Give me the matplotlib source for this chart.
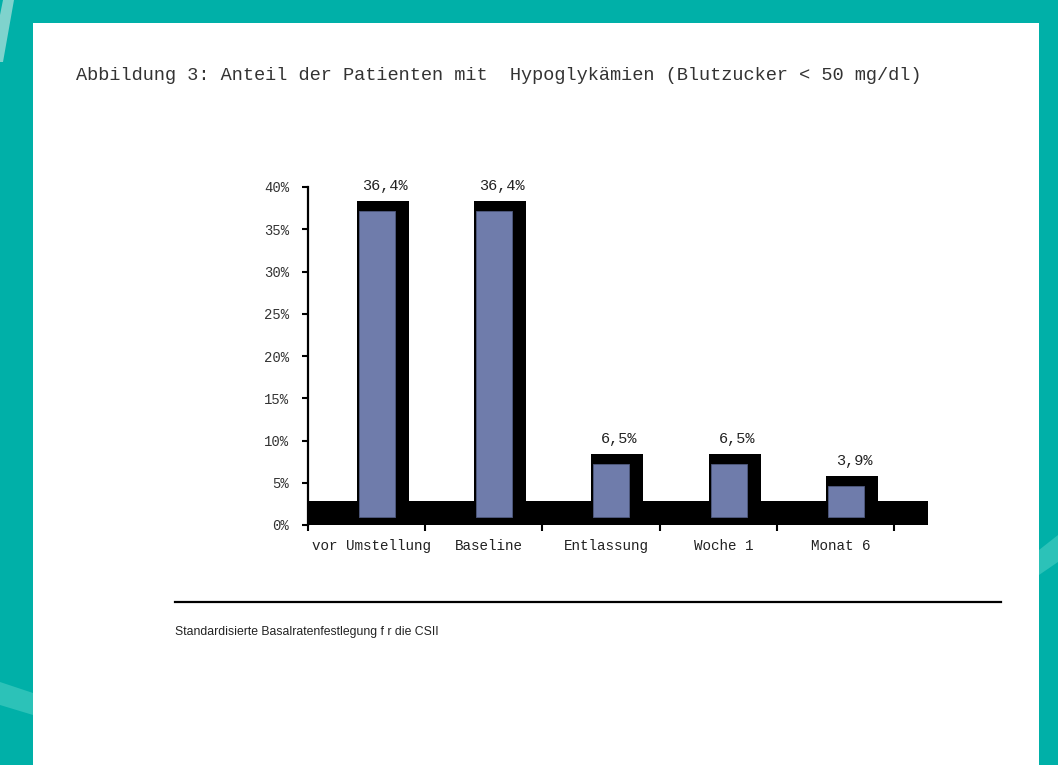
import matplotlib.pyplot as plt
from matplotlib.patches import Rectangle, Polygon
from matplotlib.lines import Line2D

# data
categories = ["vor Umstellung", "Baseline", "Entlassung", "Woche 1", "Monat 6"]
values = [36.4, 36.4, 6.5, 6.5, 3.9]
value_labels = ["36,4%", "36,4%", "6,5%", "6,5%", "3,9%"]
yticks = [0, 5, 10, 15, 20, 25, 30, 35, 40]
ytick_labels = ["0%", "5%", "10%", "15%", "20%", "25%", "30%", "35%", "40%"]

title = "Abbildung 3: Anteil der Patienten mit  Hypoglykämien (Blutzucker < 50 mg/dl)"
footer = "Standardisierte Basalratenfestlegung f r die CSII"

# colours / fonts
TEAL = "#00B0A8"
BAR_BLUE = "#6F7CAB"
MONO = ["Liberation Mono", "DejaVu Sans Mono"]

W, H = 1058, 765
fig = plt.figure(figsize=(W / 100, H / 100), dpi=100, facecolor=TEAL)

# lighter stripes in the teal border
def px_poly(pts, color):
    fig.patches.append(Polygon([(x / W, 1 - y / H) for x, y in pts], closed=True,
                               transform=fig.transFigure, facecolor=color,
                               edgecolor="none", zorder=-2))

px_poly([(3, 0), (14, 0), (3, 62), (0, 62), (0, 15)], "#7fd3cd")
px_poly([(0, 682), (33, 693), (33, 715), (0, 705)], "#2cc2b8")
px_poly([(1039, 550), (1058, 535), (1058, 562), (1039, 575)], "#2cc2b8")

# white page
fig.patches.append(Rectangle((33 / W, 0), (1039 - 33) / W, 1 - 23 / H,
                             transform=fig.transFigure, facecolor="white",
                             edgecolor="none", zorder=-1))

fig.text(76 / W, 1 - 75 / H, title, family=MONO, fontsize=13.4, color="#333333",
         va="center", ha="left")

ax = fig.add_axes([308 / W, 1 - 525 / H, (928 - 308) / W, (525 - 187) / H])
ax.set_zorder(1)
ax.set_facecolor("white")
ax.set_xlim(-0.5, 4.79)
ax.set_ylim(0, 40)

# 3d-ish look: black floor, black box behind, blue front face
floor_top = 2.85
face_bottom = 0.95
face_left, face_w = -0.065, 0.307
side_w = 0.12
face_lift, box_lift = 0.75, 1.9

ax.add_patch(Rectangle((-0.5, 0), 5.29, floor_top, facecolor="black",
                       edgecolor="none", zorder=1, clip_on=False))
for i, v in enumerate(values):
    ax.add_patch(Rectangle((i + face_left - 0.017, face_bottom), face_w + side_w + 0.017,
                           v + box_lift - face_bottom, facecolor="black",
                           edgecolor="none", zorder=2, clip_on=False))
    ax.add_patch(Rectangle((i + face_left, face_bottom), face_w, v + face_lift - face_bottom,
                           facecolor=BAR_BLUE, edgecolor="#505a80", linewidth=0.6,
                           zorder=3, clip_on=False))
    ax.text(i + face_left + (face_w + side_w) / 2 + 0.01, v + box_lift + 0.95, value_labels[i],
            family=MONO, fontsize=11, color="#222222", ha="center", va="bottom")

for s in ["top", "right"]:
    ax.spines[s].set_visible(False)
ax.spines["left"].set_linewidth(1.6)
ax.spines["bottom"].set_visible(False)

ax.set_yticks(yticks)
ax.set_yticklabels(ytick_labels, family=MONO, fontsize=10, color="#333333")
ax.tick_params(axis="y", length=4.5, width=1.5, pad=9)

ax.set_xticks([i - 0.5 for i in range(len(categories) + 1)])
ax.set_xticklabels([])
ax.tick_params(axis="x", which="major", length=4, width=1.5, direction="out")
ax.set_xticks([i + 0.045 for i in range(len(categories))], minor=True)
ax.set_xticklabels(categories, minor=True, family=MONO, fontsize=10.3, color="#222222")
ax.tick_params(axis="x", which="minor", length=0, pad=10)

# footer rule and note
fig.add_artist(Line2D([175 / W, 1001 / W], [1 - 602 / H, 1 - 602 / H],
                      transform=fig.transFigure, color="black", linewidth=1.6))
fig.text(175 / W, 1 - 632 / H, footer, family=["Liberation Sans", "DejaVu Sans"],
         fontsize=8.8, color="#222222", va="center", ha="left")

fig.savefig("out.png", dpi=100, facecolor=fig.get_facecolor())
